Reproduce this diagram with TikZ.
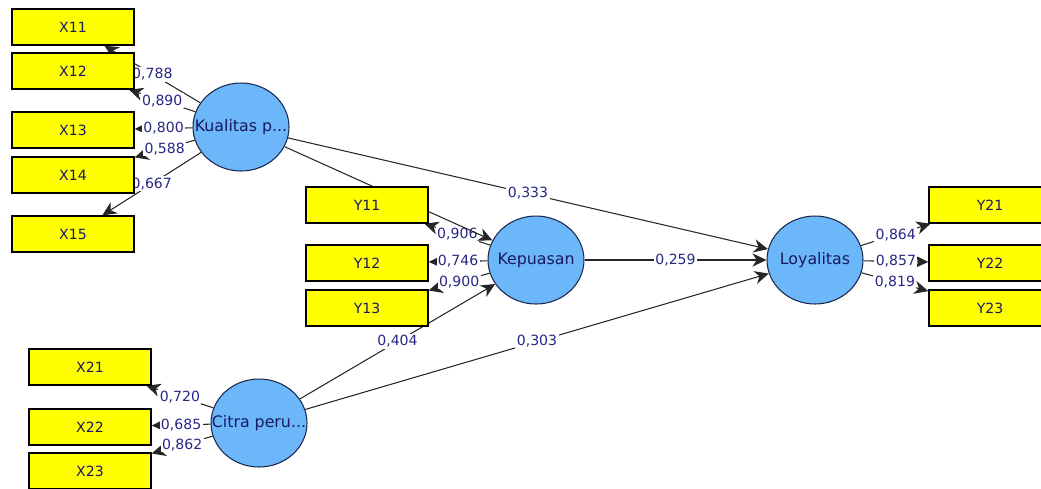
\documentclass[tikz,border=0pt]{standalone}
\usepackage{fontspec}
\setmainfont{DejaVu Sans}
\usetikzlibrary{arrows.meta,shapes.geometric,backgrounds}

% Define colors
\definecolor{plsyellow}{RGB}{255,255,0}
\definecolor{plsblue}{RGB}{108,182,250}
\definecolor{rimblue}{RGB}{25,40,75}
\definecolor{coefblue}{RGB}{40,40,135}
\definecolor{namenavy}{RGB}{25,25,95}

\tikzset{
  indicator/.style={draw=black, line width=0.8pt, fill=plsyellow, minimum width=2.44cm,
    minimum height=0.72cm, inner sep=0pt, text=namenavy, font=\fontsize{8}{9.6}\selectfont},
  latent/.style={ellipse, draw=rimblue, line width=0.6pt, fill=plsblue, minimum width=1.92cm,
    minimum height=1.76cm, inner sep=0pt},
  effect/.style={-{Stealth[length=8pt, width=7.5pt, inset=2.5pt]}, line width=0.6pt, draw=black!85},
  coef/.style={fill=white, inner sep=0.8pt, text=coefblue, font=\fontsize{8}{9.6}\selectfont}
}

\begin{document}
\begin{tikzpicture}[x=0.02cm, y=-0.02cm]
\useasboundingbox (0,0) rectangle (1041,488);

% Constructs (circles)
\node[latent, label={[font=\fontsize{9}{11}\selectfont, text=namenavy]center:Kualitas p...}] (KP) at (241,127) {};
\node[latent, label={[font=\fontsize{9}{11}\selectfont, text=namenavy]center:Citra peru...}] (CP) at (259,423) {};
\node[latent, label={[font=\fontsize{9}{11}\selectfont, text=namenavy]center:Kepuasan}] (KEP) at (536,260) {};
\node[latent, label={[font=\fontsize{9}{11}\selectfont, text=namenavy]center:Loyalitas}] (LOY) at (815,260) {};

% Indicators (rectangles)
\foreach \n/\y in {11/27, 12/71, 13/130, 14/175, 15/234}
        \node[indicator] (X\n) at (73,\y) {X\n};
\foreach \n/\y in {21/367, 22/427, 23/471}
        \node[indicator] (X\n) at (90,\y) {X\n};
\foreach \n/\y in {11/205, 12/263, 13/308}
        \node[indicator] (Y\n) at (367,\y) {Y\n};
\foreach \n/\y in {21/205, 22/263, 23/308}
        \node[indicator] (Y\n) at (990,\y) {Y\n};

\begin{scope}[on background layer]
% Outer loadings
\foreach \n/\v in {11/{0,788}, 12/{0,890}, 13/{0,800}, 14/{0,588}, 15/{0,667}}
        \draw[effect] (KP) -- (X\n) node[coef, midway] {\v};
\foreach \n/\v in {21/{0,720}, 22/{0,685}, 23/{0,862}}
        \draw[effect] (CP) -- (X\n) node[coef, midway] {\v};
\foreach \n/\v in {11/{0,906}, 12/{0,746}, 13/{0,900}}
        \draw[effect] (KEP) -- (Y\n) node[coef, midway] {\v};
\foreach \n/\v in {21/{0,864}, 22/{0,857}, 23/{0,819}}
        \draw[effect] (LOY) -- (Y\n) node[coef, midway] {\v};

% Path coefficients
\draw[effect] (KP) -- (KEP);
\draw[effect] (KP) -- (LOY) node[coef, midway] {0,333};
\draw[effect] (CP) -- (KEP) node[coef, midway] {0,404};
\draw[effect] (CP) -- (LOY) node[coef, midway] {0,303};
\draw[effect] (KEP) -- (LOY) node[coef, midway] {0,259};
\end{scope}
\end{tikzpicture}
\end{document}
